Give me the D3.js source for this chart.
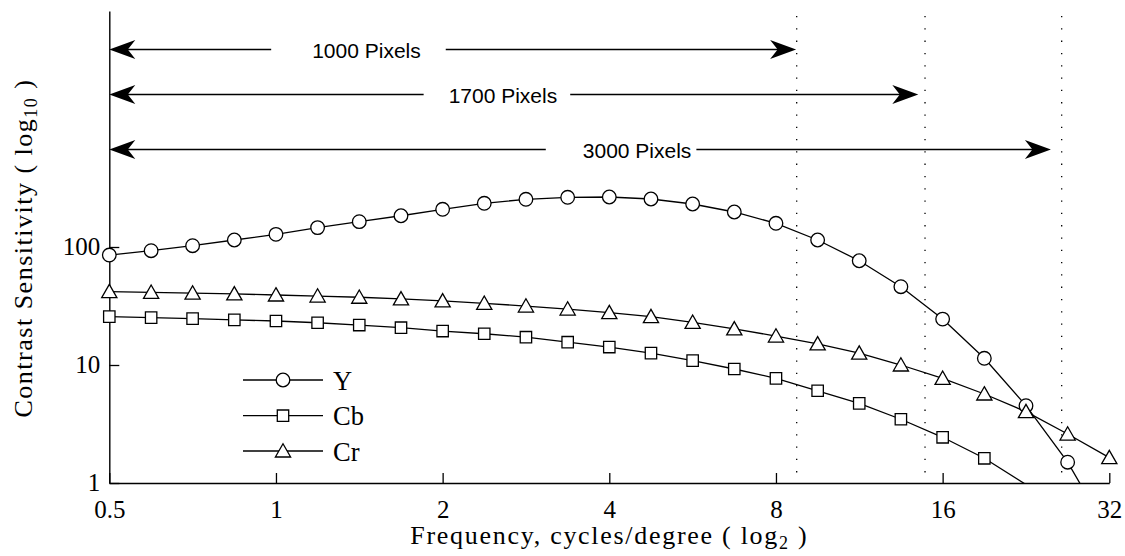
<!DOCTYPE html>
<html>
<head>
<meta charset="utf-8">
<script src="https://cdn.jsdelivr.net/npm/d3@7"></script>
<style>
  body { margin: 0; background: #fff; }
  svg { display: block; }
  .tick-label, .title, .legend-text { font-family: "Liberation Serif", "Times New Roman", serif; fill: #000; }
  .arrow-label { font-family: "Liberation Sans", Arial, sans-serif; fill: #000; }
</style>
</head>
<body>
<svg width="1125" height="556"></svg>
<script>
// frequencies, quarter-octave steps (cycles/degree)
const freqs = [0.5, 0.595, 0.707, 0.841, 1, 1.189, 1.414, 1.682, 2, 2.378, 2.828, 3.364,
  4, 4.757, 5.657, 6.727, 8, 9.514, 11.31, 13.45, 16, 19.03, 22.63, 26.91, 32];

// contrast sensitivity per channel
const yValues = [85.5, 93, 102.6, 114.6, 128, 146, 164, 184, 208.6, 234.6, 253.6, 263.7,
  265.4, 255.2, 231.4, 198, 158.8, 114.6, 76.5, 46.1, 24.5, 11.4, 4.52, 1.50, 0.37];
const cbValues = [25.7, 25.2, 24.7, 24.1, 23.6, 22.8, 21.8, 20.7, 19.4, 18.4, 17.2, 15.6,
  14.2, 12.6, 10.9, 9.25, 7.71, 6.05, 4.73, 3.47, 2.44, 1.62, 0.97];
const crValues = [41.8, 41.3, 40.7, 40.0, 39.2, 38.4, 37.5, 36.3, 34.9, 33.3, 31.6, 29.8,
  27.8, 25.7, 23.0, 20.2, 17.6, 15.1, 12.6, 10.0, 7.71, 5.68, 4.02, 2.60, 1.64];

const seriesNames = ["Y", "Cb", "Cr"];
const seriesMarkers = ["circle", "square", "triangle"];

const xTicks = [0.5, 1, 2, 4, 8, 16, 32];
const yTicks = [1, 10, 100];

// display resolution cut-offs
const pixelLabels = ["1000 Pixels", "1700 Pixels", "3000 Pixels"];
const cutoffFreqs = [8.72, 14.87, 26.25];
const arrowEndFreqs = [8.7, 14.46, 25.1];
const labelFreqs = [1.457, 2.57, 4.49];

const svg = d3.select("svg");

const x = d3.scaleLog().base(2).domain([0.5, 32]).range([109.3, 1109.3]);
const y = d3.scaleLog().domain([1, 10000]).range([483, 11]);

svg.append("defs").append("clipPath").attr("id", "plot-clip")
  .append("rect").attr("x", 0).attr("y", y(10000)).attr("width", 1125).attr("height", y(1) - y(10000));

// dotted cut-off lines
svg.append("g").selectAll("line")
  .data(cutoffFreqs)
  .enter().append("line")
  .attr("x1", d => x(d)).attr("x2", d => x(d))
  .attr("y1", 16).attr("y2", y(1))
  .attr("stroke", "#000").attr("stroke-width", 1.3)
  .attr("stroke-dasharray", "1.3,11");

// axes
const xAxis = svg.append("g").attr("transform", `translate(0,${y(1)})`)
  .call(d3.axisBottom(x).tickValues(xTicks).tickSizeInner(-10).tickSizeOuter(0).tickFormat(d3.format("")));
const yAxis = svg.append("g").attr("transform", `translate(${x(0.5)},0)`)
  .call(d3.axisLeft(y).tickValues(yTicks).tickSizeInner(-10).tickSizeOuter(0).tickFormat(d3.format("")));

[xAxis, yAxis].forEach(ax => {
  ax.select(".domain").attr("stroke", "#000").attr("stroke-width", 1.4);
  ax.selectAll(".tick line").attr("stroke", "#000").attr("stroke-width", 1.3);
  ax.selectAll(".tick text").attr("class", "tick-label").attr("font-size", 25);
});
xAxis.selectAll(".tick text").attr("y", 0).attr("dy", 35);
yAxis.selectAll(".tick text").attr("x", -9).attr("dy", "0.28em");

// stretch a title to the width it has in the figure
function fitWidth(text, target) {
  const n = text.node().getNumberOfChars();
  const w = text.node().getComputedTextLength();
  text.attr("letter-spacing", (target - w) / n);
}

// axis titles
const xTitle = svg.append("text").attr("class", "title")
  .attr("x", (x(0.5) + x(32)) / 2).attr("y", 544)
  .attr("text-anchor", "middle").attr("font-size", 26);
xTitle.append("tspan").text("Frequency, cycles/degree ( log");
xTitle.append("tspan").attr("font-size", 18).attr("dy", 5).text("2");
xTitle.append("tspan").attr("dy", -5).text(" )");
fitWidth(xTitle, 398);

const yTitle = svg.append("text").attr("class", "title")
  .attr("transform", `translate(32,${(y(1) + y(10000)) / 2 + 1}) rotate(-90)`)
  .attr("text-anchor", "middle").attr("font-size", 26);
yTitle.append("tspan").text("Contrast Sensitivity ( log");
yTitle.append("tspan").attr("font-size", 18).attr("dy", 5).text("10");
yTitle.append("tspan").attr("dy", -5).text(" )");
fitWidth(yTitle, 339);

// marker shapes
function markerPath(type) {
  if (type === "circle") return "M6.8,0A6.8,6.8 0 1,1 -6.8,0A6.8,6.8 0 1,1 6.8,0Z";
  if (type === "square") return "M-5.7,-5.7H5.7V5.7H-5.7Z";
  return "M0,-7.3L7.6,6L-7.6,6Z";
}

const seriesValues = [yValues, cbValues, crValues];
const line = d3.line().x(d => x(d[0])).y(d => y(d[1]));

const plot = svg.append("g").attr("clip-path", "url(#plot-clip)");
seriesValues.forEach((vals, i) => {
  const pts = vals.map((v, k) => [freqs[k], v]);
  plot.append("path").datum(pts)
    .attr("d", line)
    .attr("fill", "none").attr("stroke", "#000").attr("stroke-width", 1.3);
  svg.append("g").selectAll("path")
    .data(pts.filter(p => p[1] >= 1))
    .enter().append("path")
    .attr("transform", d => `translate(${x(d[0])},${y(d[1])})`)
    .attr("d", markerPath(seriesMarkers[i]))
    .attr("fill", "#fff").attr("stroke", "#000").attr("stroke-width", 1.3);
});

// legend
const legendY = [380, 415.7, 451];
const legend = svg.append("g");
seriesNames.forEach((name, i) => {
  legend.append("line").attr("x1", 243).attr("x2", 323)
    .attr("y1", legendY[i]).attr("y2", legendY[i])
    .attr("stroke", "#000").attr("stroke-width", 1.3);
  legend.append("path").attr("transform", `translate(283,${legendY[i]})`)
    .attr("d", markerPath(seriesMarkers[i]))
    .attr("fill", "#fff").attr("stroke", "#000").attr("stroke-width", 1.3);
  legend.append("text").attr("class", "legend-text")
    .attr("x", 333).attr("y", legendY[i] + 9.5)
    .attr("font-size", 26.5).text(name);
});

// resolution arrows
const arrowY = [49.5, 94.5, 149.5];
const labelPads = [[41, 25], [25, 13], [37, 5]];
function headPath(tx, ty, dir) {
  return `M${tx},${ty}L${tx - dir * 26},${ty - 9.5}L${tx - dir * 18.5},${ty}L${tx - dir * 26},${ty + 9.5}Z`;
}
const arrows = svg.append("g");
pixelLabels.forEach((label, i) => {
  const ay = arrowY[i];
  const t = arrows.append("text").attr("class", "arrow-label")
    .attr("x", x(labelFreqs[i])).attr("y", ay + 8.5)
    .attr("text-anchor", "middle").attr("font-size", 21).text(label);
  const w = t.node().getComputedTextLength();
  const left = x(labelFreqs[i]) - w / 2 - labelPads[i][0];
  const right = x(labelFreqs[i]) + w / 2 + labelPads[i][1];
  const x0 = x(0.5), x1 = x(arrowEndFreqs[i]);
  arrows.append("line").attr("x1", x0 + 10).attr("x2", left).attr("y1", ay).attr("y2", ay)
    .attr("stroke", "#000").attr("stroke-width", 1.3);
  arrows.append("line").attr("x1", right).attr("x2", x1 - 10).attr("y1", ay).attr("y2", ay)
    .attr("stroke", "#000").attr("stroke-width", 1.3);
  arrows.append("path").attr("d", headPath(x0, ay, -1)).attr("fill", "#000");
  arrows.append("path").attr("d", headPath(x1, ay, 1)).attr("fill", "#000");
});
</script>
</body>
</html>
